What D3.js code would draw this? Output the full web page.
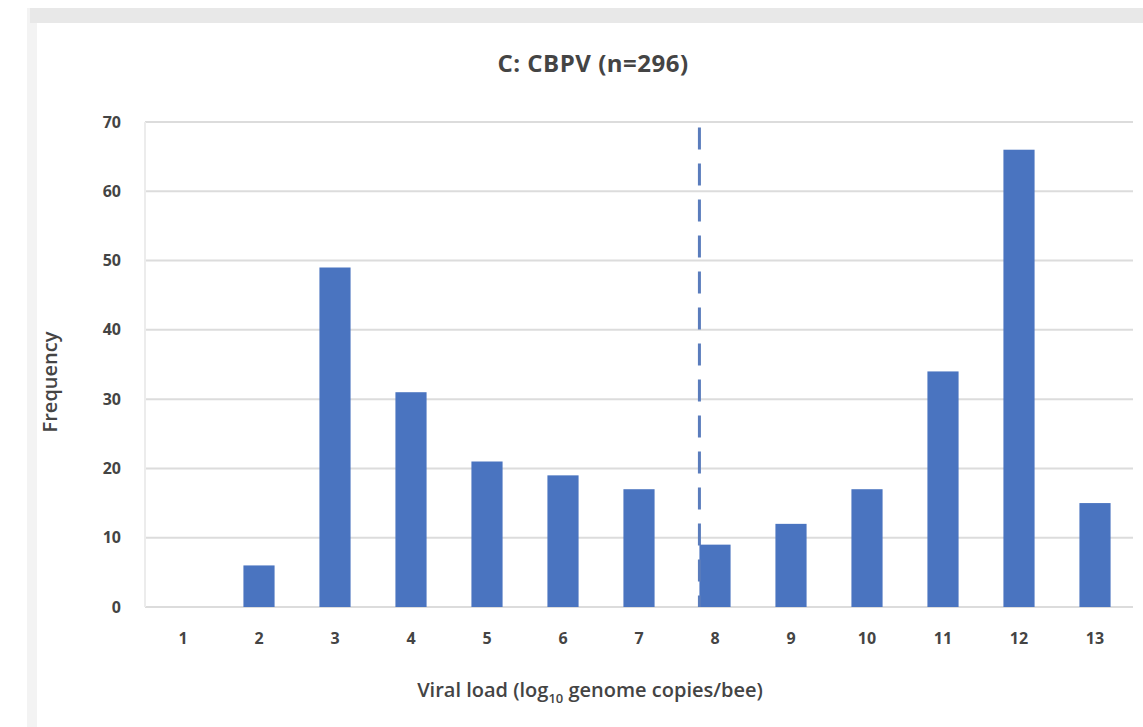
<!DOCTYPE html>
<html>
<head>
<meta charset="utf-8">
<script src="https://cdn.jsdelivr.net/npm/d3@7.9.0/dist/d3.min.js"></script>
<style>
  body { margin: 0; background: #fff; }
  svg { display: block; font-family: "Open Sans", "Liberation Sans", sans-serif; }
</style>
</head>
<body>
<svg id="chart" width="1143" height="727"></svg>
<script>
// data
const categories = ["1", "2", "3", "4", "5", "6", "7", "8", "9", "10", "11", "12", "13"];
const frequency = [0, 6, 49, 31, 21, 19, 17, 9, 12, 17, 34, 66, 15];
const yTicks = [0, 10, 20, 30, 40, 50, 60, 70];
const thresholdCategory = "8";

const svg = d3.select("#chart");

// frame pieces of the screenshot
svg.append("rect").attr("x", 27).attr("y", 8).attr("width", 1116).attr("height", 719).attr("fill", "#f3f3f3");
svg.append("rect").attr("x", 30).attr("y", 8).attr("width", 1113).attr("height", 15).attr("fill", "#e8e8e8");
svg.append("rect").attr("x", 37).attr("y", 23).attr("width", 1106).attr("height", 704).attr("fill", "#ffffff");

let x = d3.scaleBand().domain(categories).range([145, 1133]).paddingInner(0.59).paddingOuter(0.295);
let y = d3.scaleLinear().domain([0, 70]).range([607, 122]);

// gridlines
svg.append("g")
  .selectAll("line")
  .data(yTicks)
  .enter()
  .append("line")
  .attr("x1", 145)
  .attr("x2", 1133)
  .attr("y1", (d) => y(d))
  .attr("y2", (d) => y(d))
  .attr("stroke", "#dcdcdc")
  .attr("stroke-width", 2);

svg.append("line")
  .attr("x1", 145).attr("x2", 145)
  .attr("y1", y(70)).attr("y2", y(0))
  .attr("stroke", "#ececec")
  .attr("stroke-width", 2);

// y tick labels
let yAxis = d3.axisLeft(y).tickValues(yTicks).tickSize(0).tickPadding(24);
let gy = svg.append("g").attr("transform", "translate(145,0)").call(yAxis)
  .attr("font-family", null);
gy.select(".domain").remove();
gy.selectAll("text").attr("font-size", 16).attr("font-weight", 700).attr("fill", "#444");

// x tick labels
let xAxis = d3.axisBottom(x).tickSize(0).tickPadding(26);
let gx = svg.append("g").attr("transform", `translate(0,${y(0)})`).call(xAxis)
  .attr("font-family", null);
gx.select(".domain").remove();
gx.selectAll("text").attr("font-size", 16).attr("font-weight", 700).attr("fill", "#444");

// bars
svg.append("g")
  .selectAll("rect")
  .data(frequency)
  .enter()
  .append("rect")
  .attr("x", (d, i) => x(categories[i]))
  .attr("width", x.bandwidth())
  .attr("y", (d) => y(d))
  .attr("height", (d) => y(0) - y(d))
  .attr("fill", "#4a74c0");

// dashed threshold line
svg.append("line")
  .attr("x1", x(thresholdCategory)).attr("x2", x(thresholdCategory))
  .attr("y1", y(69.2)).attr("y2", y(0))
  .attr("stroke", "#5a7cbc")
  .attr("stroke-width", 3)
  .attr("stroke-dasharray", "22,14");

// title
svg.append("text")
  .attr("x", 593).attr("y", 72)
  .attr("text-anchor", "middle")
  .attr("font-size", 24).attr("font-weight", 700).attr("fill", "#444")
  .attr("letter-spacing", 0.5)
  .text("C: CBPV (n=296)");

// axis titles
svg.append("text")
  .attr("transform", "translate(57,382) rotate(-90)")
  .attr("text-anchor", "middle")
  .attr("font-size", 20).attr("font-weight", 600).attr("fill", "#444")
  .text("Frequency");

let xt = svg.append("text")
  .attr("x", 590).attr("y", 697)
  .attr("text-anchor", "middle")
  .attr("font-size", 20).attr("font-weight", 600).attr("fill", "#444");
xt.append("tspan").text("Viral load (log");
xt.append("tspan").attr("font-size", 13).attr("dy", 6).text("10");
xt.append("tspan").attr("dy", -6).text(" genome copies/bee)");
</script>
</body>
</html>
